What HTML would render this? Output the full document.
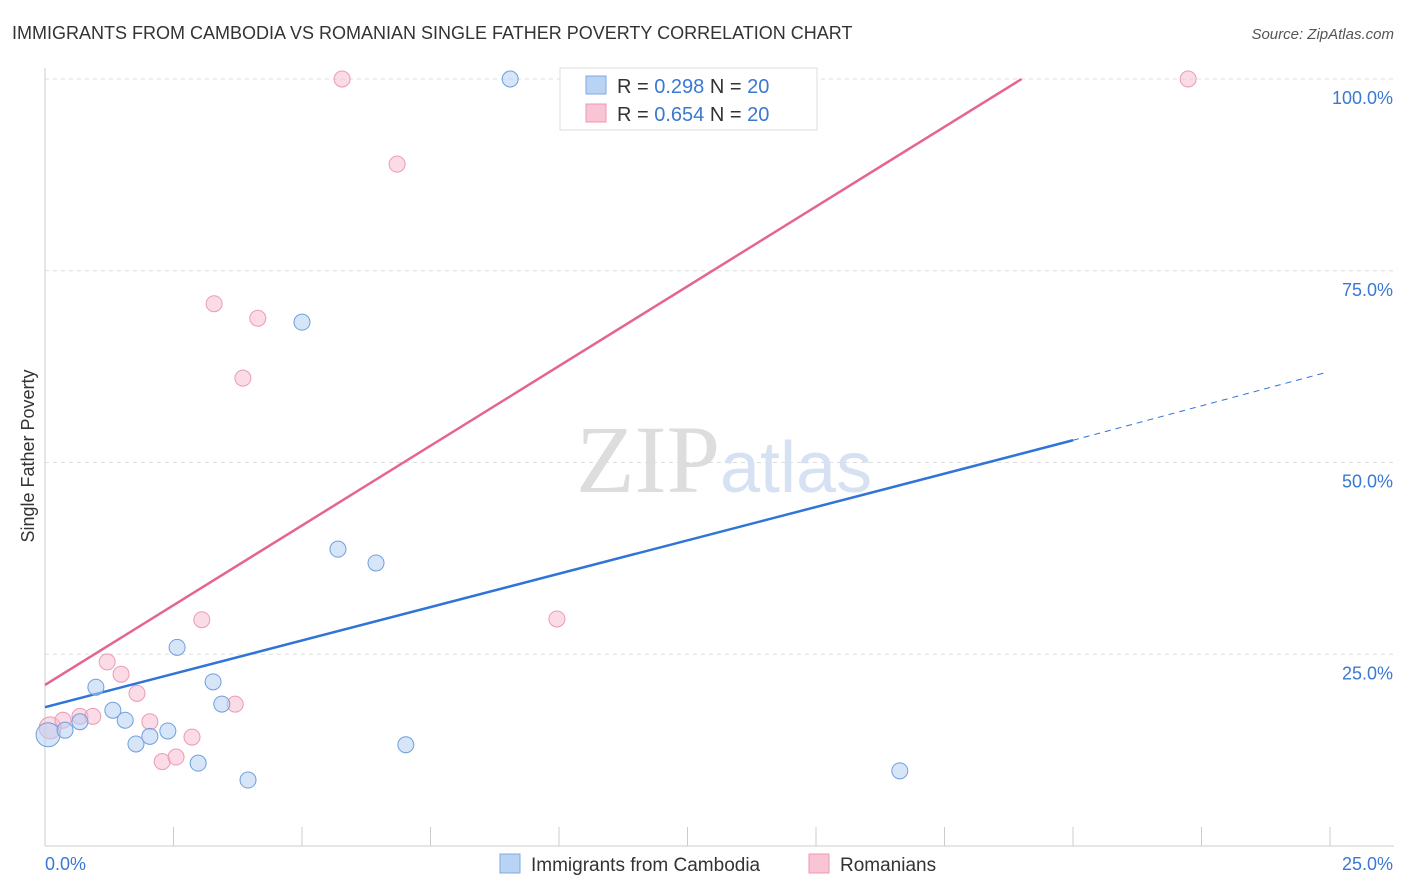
<!DOCTYPE html>
<html><head><meta charset="utf-8"><style>
body{margin:0;background:#fff;font-family:"Liberation Sans",sans-serif;}
svg{display:block}
</style></head><body>
<svg id="chart" width="1406" height="892">
<text x="12" y="39" font-size="18" fill="#333">IMMIGRANTS FROM CAMBODIA VS ROMANIAN SINGLE FATHER POVERTY CORRELATION CHART</text>
<text x="1394" y="39" font-size="15" fill="#555" font-style="italic" text-anchor="end">Source: ZipAtlas.com</text>
<text x="0" y="0" transform="translate(34,456) rotate(-90)" font-size="18" fill="#333" text-anchor="middle">Single Father Poverty</text>
<g id="grid"></g>
<text x="720" y="492" font-size="96" fill="#ddd" font-family="Liberation Serif,serif" text-anchor="end">ZIP</text>
<text x="720" y="492" font-size="72" fill="#d6e2f3">atlas</text>
<g id="lines"></g>
<g id="points"></g>
<g>
<rect x="560" y="68" width="257" height="62" fill="#fff" stroke="#ddd"/>
<rect x="586" y="76" width="20" height="18" fill="#b9d3f5" stroke="#7ea8e0"/>
<rect x="586" y="104" width="20" height="18" fill="#f9c4d4" stroke="#ec9ab5"/>
<text x="617" y="93" font-size="20" fill="#333">R = <tspan fill="#3a78d4">0.298</tspan>   N = <tspan fill="#3a78d4">20</tspan></text>
<text x="617" y="121" font-size="20" fill="#333">R = <tspan fill="#3a78d4">0.654</tspan>   N = <tspan fill="#3a78d4">20</tspan></text>
</g>
<g>
<rect x="500" y="854" width="20" height="19" fill="#b9d3f5" stroke="#7ea8e0"/>
<text x="531" y="871" font-size="19" fill="#333">Immigrants from Cambodia</text>
<rect x="809" y="854" width="20" height="19" fill="#f9c4d4" stroke="#ec9ab5"/>
<text x="840" y="871" font-size="19" fill="#333">Romanians</text>
</g>
</svg>
<script>
const xTicks=[0,2.5,5,7.5,10,12.5,15,17.5,20,22.5,25];
const yTicks=[25,50,75,100];
const yTickLabels=["25.0%","50.0%","75.0%","100.0%"];
const xTickLabels=["0.0%","25.0%"];
const cambodiaX=[0.06,0.39,0.68,0.99,1.32,1.56,1.77,2.04,2.39,2.57,2.98,3.27,3.44,3.95,5.0,5.70,6.44,7.02,9.05,16.63];
const cambodiaY=[14.5,15.1,16.2,20.7,17.7,16.4,13.3,14.3,15.0,25.9,10.8,21.4,18.5,8.6,68.3,38.7,36.9,13.2,100,9.8];
const romanianX=[0.1,0.35,0.68,0.93,1.21,1.48,1.79,2.04,2.28,2.55,2.86,3.05,3.29,3.70,3.85,4.14,5.78,6.85,9.96,22.24];
const romanianY=[15.4,16.4,16.9,16.9,24.0,22.4,19.9,16.2,11.0,11.6,14.2,29.5,70.7,18.5,61.0,68.8,100,88.9,29.6,100];
const blueTrend=[18.1,52.9,61.7]; // y at x = 0, 20, 24.9
const pinkTrend=[21.0,100]; // y at x=0, x=19
const X=v=>45+v*51.4, Y=v=>846-v*7.67;
const NS="http://www.w3.org/2000/svg";
function mk(parent,tag,attrs){const e=document.createElementNS(NS,tag);for(const k in attrs)e.setAttribute(k,attrs[k]);document.getElementById(parent).appendChild(e);return e;}
let ax=mk('grid','line',{x1:45,y1:846,x2:1394,y2:846,stroke:'#ccc'});


let ay=mk('grid','line',{x1:45,y1:68,x2:45,y2:846,stroke:'#ccc'});


xTicks.forEach(t=>{const e=mk('grid','line',{x1:X(t),y1:827,x2:X(t),y2:846,stroke:'#ccc'});

});
yTicks.forEach((t,i)=>{const g=mk('grid','line',{x1:45,y1:Y(t),x2:1394,y2:Y(t),stroke:'#ddd','stroke-dasharray':'4,4'});


const l=mk('grid','text',{x:1393,y:Y(t)+25,'font-size':18,fill:'#3a78d4','text-anchor':'end'});l.textContent=yTickLabels[i];

});
let xl0=mk('grid','text',{x:45,y:870,'font-size':18,fill:'#3a78d4'});xl0.textContent=xTickLabels[0];


let xl1=mk('grid','text',{x:1393,y:870,'font-size':18,fill:'#3a78d4','text-anchor':'end'});xl1.textContent=xTickLabels[1];


let bl=mk('lines','line',{x1:X(0),y1:Y(blueTrend[0]),x2:X(20),y2:Y(blueTrend[1]),stroke:'#2f74d6','stroke-width':2.5});


let bd=mk('lines','line',{x1:X(20),y1:Y(blueTrend[1]),x2:X(24.9),y2:Y(blueTrend[2]),stroke:'#2f74d6','stroke-width':1,'stroke-dasharray':'6,5'});


let pl=mk('lines','line',{x1:X(0),y1:Y(pinkTrend[0]),x2:X(19),y2:Y(pinkTrend[1]),stroke:'#e56490','stroke-width':2.5});


romanianX.forEach((x,i)=>{const c=mk('points','circle',{cx:X(x),cy:Y(romanianY[i]),r:i==0?11:8,fill:'rgba(248,190,208,0.55)',stroke:'#ec9ab5','stroke-width':1});

});
cambodiaX.forEach((x,i)=>{const c=mk('points','circle',{cx:X(x),cy:Y(cambodiaY[i]),r:i==0?12:8,fill:'rgba(182,208,244,0.55)',stroke:'#6f9fdc','stroke-width':1});

});
</script>
</body></html>
